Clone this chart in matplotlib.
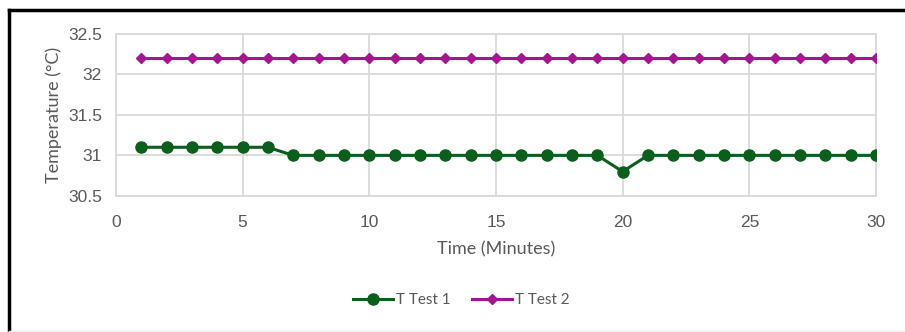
import matplotlib
matplotlib.use("Agg")
import matplotlib.pyplot as plt
from matplotlib.lines import Line2D

# Temperature readings per minute for the two test runs
minutes = list(range(1, 31))
t_test1 = [31.1] * 6 + [31.0] * 13 + [30.8] + [31.0] * 10
t_test2 = [32.2] * 30

GREEN = "#0b5e1c"
MAGENTA = "#a3168f"
GRID = "#d9d9d9"
TEXT = "#595959"

plt.rcParams["font.family"] = ["Liberation Sans", "DejaVu Sans"]

fig = plt.figure(figsize=(9.05, 3.32), dpi=100)
ax = fig.add_axes([0.128, 0.41, 0.84, 0.488])

ax.plot(minutes, t_test1, color=GREEN, lw=2.2, marker="o", ms=8,
        label="T Test 1", zorder=3)
ax.plot(minutes, t_test2, color=MAGENTA, lw=2.2, marker="D", ms=5.5,
        label="T Test 2", zorder=3)

ax.set_xlim(0, 30)
ax.set_ylim(30.5, 32.5)
ax.set_xticks(range(0, 31, 5))
ax.set_yticks([30.5, 31, 31.5, 32, 32.5])
ax.set_yticklabels(["30.5", "31", "31.5", "32", "32.5"])
ax.tick_params(length=0, labelsize=12.5, colors=TEXT)
ax.tick_params(axis="x", pad=14)
ax.tick_params(axis="y", pad=10)
ax.grid(color=GRID, lw=1.3)
ax.set_axisbelow(True)
for s in ax.spines.values():
    s.set_color(GRID)
    s.set_linewidth(1.3)

ax.set_xlabel("Time (Minutes)", fontsize=13, color=TEXT, family="Lato",
              labelpad=8)
ax.set_ylabel("Temperature (°C)", fontsize=13, color=TEXT, family="Lato",
              labelpad=4)

leg = fig.legend(loc="center", bbox_to_anchor=(0.51, 0.095), ncol=2,
                 frameon=False, handlelength=2.6,
                 columnspacing=1.4, handletextpad=0.2,
                 prop={"family": "Lato", "size": 11})
for t in leg.get_texts():
    t.set_color(TEXT)

# frame edges around the chart
fig.add_artist(Line2D([8.5 / 905, 8.5 / 905], [0, 1 - 10 / 332],
                      color="black", lw=2.5, transform=fig.transFigure))
fig.add_artist(Line2D([8.5 / 905, 1], [1 - 10 / 332, 1 - 10 / 332],
                      color="black", lw=2.5, transform=fig.transFigure))
fig.add_artist(Line2D([8.5 / 905, 1], [1.5 / 332, 1.5 / 332],
                      color="#eeeeee", lw=1, transform=fig.transFigure))

fig.savefig("out.png", dpi=100)
